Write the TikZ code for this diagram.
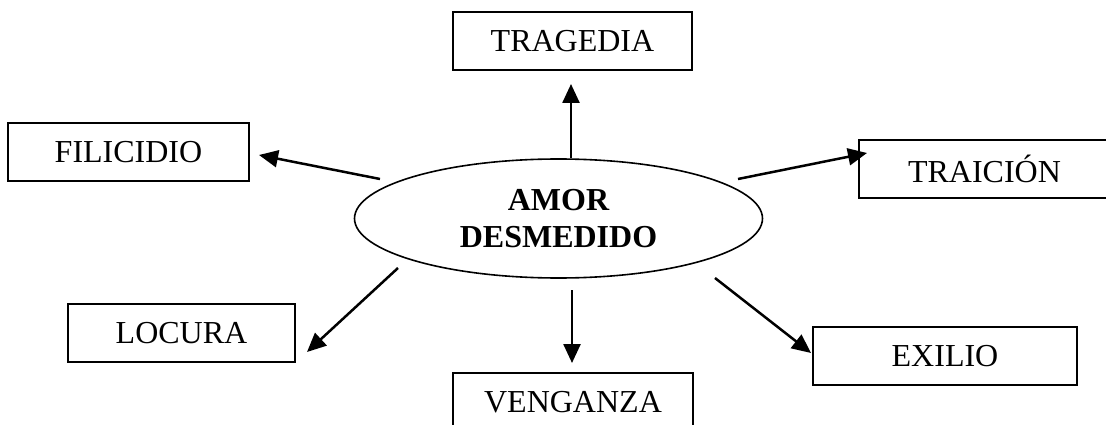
\documentclass[tikz,border=0pt]{standalone}
\usepackage{fontspec}
\setmainfont{Liberation Serif}
\usetikzlibrary{shapes.geometric,arrows.meta}
\begin{document}
\begin{tikzpicture}[x=1pt,y=-1pt,
  box/.style={draw,line width=1.8pt,minimum height=58pt,inner sep=0pt,font=\fontsize{32}{37}\selectfont},
  conn/.style={line width=2.5pt,-{Triangle[length=19pt,width=17pt]}}]
\useasboundingbox (0,0) rectangle (1106,425);
\node[draw,ellipse,line width=1.6pt,minimum width=408pt,minimum height=119pt,inner sep=0pt,align=center,
  font=\fontsize{32}{37}\selectfont\bfseries] (c) at (558.5,218.5) {AMOR\\DESMEDIDO};
\node[box,minimum width=239pt] (trag) at (572.5,41) {TRAGEDIA};
\node[box,minimum width=241pt] (fili) at (128.5,152) {FILICIDIO};
\node[box,minimum width=251pt] (trai) at (984.5,169) {TRAICIÓN};
\node[box,minimum width=227pt] (loc) at (181.5,333) {LOCURA};
\node[box,minimum width=264pt] (exi) at (945,356) {EXILIO};
\node[box,minimum width=240pt] (ven) at (573,402) {VENGANZA};
\coordinate (s1) at (571,158); \coordinate (e1) at (571,84);
\coordinate (s2) at (380,179); \coordinate (e2) at (259,155);
\coordinate (s3) at (738,179); \coordinate (e3) at (867,153);
\coordinate (s4) at (398,268); \coordinate (e4) at (307,352);
\coordinate (s5) at (572,290); \coordinate (e5) at (572,363);
\coordinate (s6) at (715,278); \coordinate (e6) at (811,353);
\draw[conn] (s1) -- (e1);
\draw[conn] (s2) -- (e2);
\draw[conn] (s3) -- (e3);
\draw[conn] (s4) -- (e4);
\draw[conn] (s5) -- (e5);
\draw[conn] (s6) -- (e6);
\end{tikzpicture}
\end{document}
